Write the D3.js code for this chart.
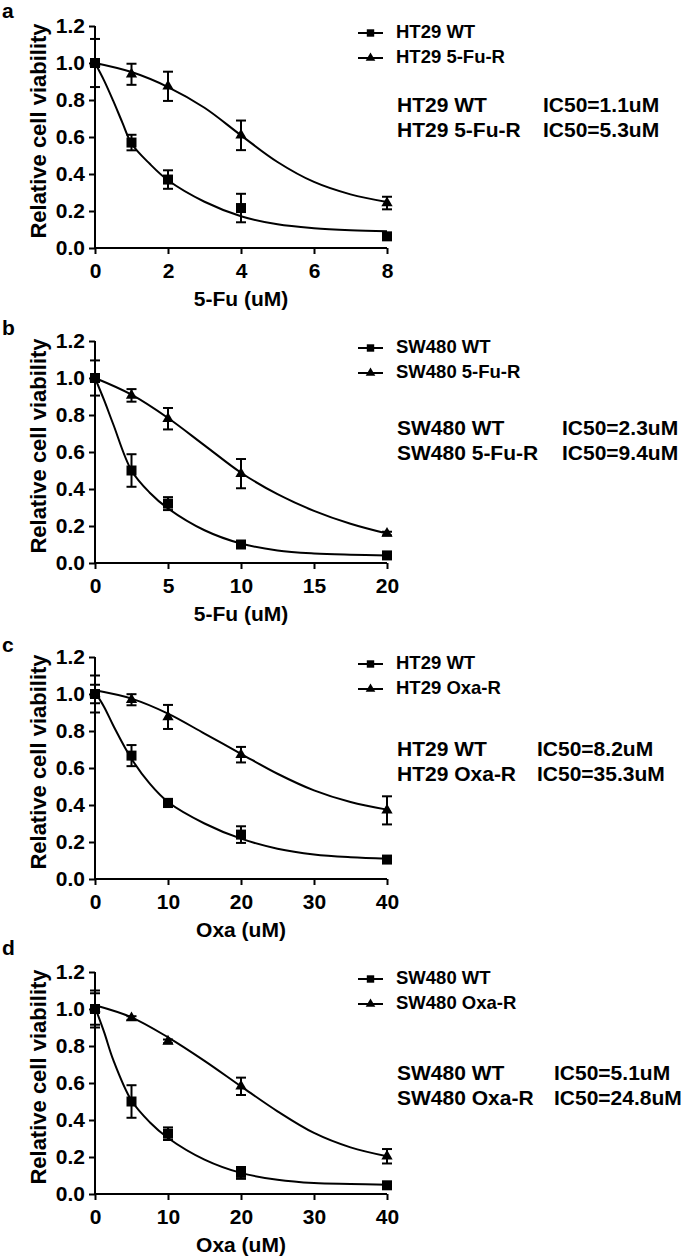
<!DOCTYPE html>
<html>
<head>
<meta charset="utf-8">
<script src="https://cdn.jsdelivr.net/npm/d3@7"></script>
<style>
  body { margin: 0; background: #fff; }
  svg { display: block; font-family: "Liberation Sans", Arial, Helvetica, sans-serif; }
  text { font-weight: bold; fill: #000; }
</style>
</head>
<body>
<script>
// ---- data ----
const panelLetters = ["a", "b", "c", "d"];
const xTitles = ["5-Fu (uM)", "5-Fu (uM)", "Oxa (uM)", "Oxa (uM)"];
const xMax = [8, 20, 40, 40];
const xTicks = [[0, 2, 4, 6, 8], [0, 5, 10, 15, 20], [0, 10, 20, 30, 40], [0, 10, 20, 30, 40]];
const yTicks = [0, 0.2, 0.4, 0.6, 0.8, 1.0, 1.2];

const wtNames = ["HT29 WT", "SW480 WT", "HT29 WT", "SW480 WT"];
const resNames = ["HT29 5-Fu-R", "SW480 5-Fu-R", "HT29 Oxa-R", "SW480 Oxa-R"];
const ic50Wt = ["IC50=1.1uM", "IC50=2.3uM", "IC50=8.2uM", "IC50=5.1uM"];
const ic50Res = ["IC50=5.3uM", "IC50=9.4uM", "IC50=35.3uM", "IC50=24.8uM"];

const doses = [[0, 1, 2, 4, 8], [0, 2.5, 5, 10, 20], [0, 5, 10, 20, 40], [0, 5, 10, 20, 40]];
const wtMean = [
  [1.0, 0.57, 0.37, 0.216, 0.063],
  [1.0, 0.50, 0.321, 0.10, 0.041],
  [1.0, 0.667, 0.411, 0.24, 0.105],
  [1.0, 0.50, 0.326, 0.114, 0.047]
];
const wtErr = [
  [0.13, 0.042, 0.05, 0.077, 0.01],
  [0.095, 0.088, 0.035, 0.015, 0.008],
  [0.1, 0.057, 0.022, 0.045, 0.01],
  [0.1, 0.088, 0.034, 0.032, 0.008]
];
const resMean = [
  [1.0, 0.939, 0.874, 0.609, 0.243],
  [1.0, 0.906, 0.78, 0.483, 0.159],
  [1.0, 0.969, 0.876, 0.672, 0.371],
  [1.0, 0.951, 0.825, 0.582, 0.204]
];
const resErr = [
  [0.02, 0.057, 0.079, 0.08, 0.034],
  [0.02, 0.034, 0.058, 0.079, 0.01],
  [0.05, 0.03, 0.065, 0.042, 0.076],
  [0.085, 0.01, 0.01, 0.047, 0.039]
];

// fitted curves, sampled off the figure
const wtCurveX = [
  [0, 0.25, 0.5, 0.75, 1, 1.5, 2, 3, 4, 5, 6, 7, 8],
  [0, 0.625, 1.25, 2.5, 3.75, 5, 7.5, 10, 12.5, 15, 17.5, 20],
  [0, 1.25, 2.5, 5, 7.5, 10, 15, 20, 25, 30, 35, 40],
  [0, 1.25, 2.5, 5, 7.5, 10, 15, 20, 25, 30, 35, 40]
];
const wtCurveY = [
  [1.0, 0.905, 0.795, 0.678, 0.565, 0.455, 0.366, 0.25, 0.172, 0.128, 0.107, 0.096, 0.09],
  [1.0, 0.88, 0.75, 0.50, 0.38, 0.295, 0.177, 0.105, 0.068, 0.052, 0.045, 0.041],
  [1.01, 0.93, 0.83, 0.65, 0.515, 0.416, 0.30, 0.218, 0.164, 0.133, 0.118, 0.11],
  [1.01, 0.875, 0.725, 0.505, 0.388, 0.303, 0.186, 0.114, 0.077, 0.059, 0.054, 0.05]
];
const resCurveX = [
  [0, 1, 2, 3, 4, 5, 6, 7, 8],
  [0, 2.5, 5, 7.5, 10, 12.5, 15, 17.5, 20],
  [0, 5, 10, 15, 20, 25, 30, 35, 40],
  [0, 5, 10, 15, 20, 25, 30, 35, 40]
];
const resCurveY = [
  [1.0, 0.951, 0.87, 0.758, 0.609, 0.465, 0.357, 0.29, 0.249],
  [1.0, 0.91, 0.784, 0.636, 0.488, 0.372, 0.282, 0.212, 0.159],
  [1.02, 0.975, 0.894, 0.786, 0.677, 0.569, 0.479, 0.416, 0.375],
  [1.02, 0.955, 0.847, 0.72, 0.582, 0.447, 0.33, 0.252, 0.204]
];

// ---- layout ----
const WIDTH = 685, HEIGHT = 1257;
const X0 = 95, X1 = 387, PH = 222;
const yZero = [248, 563, 879, 1194];
const letterY = [18, 335, 652, 955];
const icY = [112, 435, 756, 1080];
const icX = [543, 562, 537, 554];

const svg = d3.select("body").append("svg")
  .attr("width", WIDTH).attr("height", HEIGHT);

const squarePath = d3.symbol().type(d3.symbolSquare).size(100)();
const triPath = d3.symbol().type(d3.symbolTriangle).size(55)();
const legSquare = d3.symbol().type(d3.symbolSquare).size(55)();
const legTri = d3.symbol().type(d3.symbolTriangle).size(40)();

panelLetters.forEach((letter, p) => {
  const x = d3.scaleLinear().domain([0, xMax[p]]).range([X0, X1]);
  const y = d3.scaleLinear().domain([0, 1.2]).range([yZero[p], yZero[p] - PH]);
  const g = svg.append("g");

  g.append("text").attr("x", 2).attr("y", letterY[p])
    .style("font-size", "21px").text(letter);

  // axes
  const ax = g.append("g").attr("transform", `translate(0,${yZero[p]})`)
    .call(d3.axisBottom(x).tickValues(xTicks[p]).tickSize(6).tickSizeOuter(0).tickPadding(9));
  const ay = g.append("g").attr("transform", `translate(${X0},0)`)
    .call(d3.axisLeft(y).tickValues(yTicks).tickFormat(d3.format(".1f")).tickSize(6).tickSizeOuter(0).tickPadding(4));
  [ax, ay].forEach(a => {
    a.selectAll("path,line").attr("stroke", "#000").attr("stroke-width", 2);
    a.selectAll("text").style("font-size", "21px").style("font-family", "Liberation Sans, Arial, sans-serif")
      .style("font-weight", "bold").attr("fill", "#000");
  });
  ay.select(".domain").attr("d", `M0,${y(0)}V${y(1.2)}`);
  ax.select(".domain").attr("d", `M${X0},0H${X1}`);

  g.append("text").attr("x", (X0 + X1) / 2).attr("y", yZero[p] + 58)
    .attr("text-anchor", "middle").style("font-size", "21px").text(xTitles[p]);
  g.append("text")
    .attr("transform", `translate(46,${yZero[p] - 117}) rotate(-90)`)
    .attr("text-anchor", "middle").style("font-size", "22px").text("Relative cell viability");

  // curves
  const line = d3.line().x(d => x(d[0])).y(d => y(d[1])).curve(d3.curveCatmullRom.alpha(0.5));
  [[wtCurveX[p], wtCurveY[p]], [resCurveX[p], resCurveY[p]]].forEach(([cx, cy]) => {
    g.append("path").datum(cx.map((v, i) => [v, cy[i]]))
      .attr("d", line).attr("fill", "none").attr("stroke", "#000").attr("stroke-width", 2);
  });

  // error bars and markers
  const series = [
    { mean: wtMean[p], err: wtErr[p], shape: squarePath },
    { mean: resMean[p], err: resErr[p], shape: triPath }
  ];
  series.forEach(s => {
    const pts = doses[p].map((d, i) => ({ d: d, m: s.mean[i], e: s.err[i] }));
    const eb = g.append("g").attr("stroke", "#000").attr("stroke-width", 2);
    pts.forEach(pt => {
      const cxp = x(pt.d);
      eb.append("line").attr("x1", cxp).attr("x2", cxp).attr("y1", y(pt.m - pt.e)).attr("y2", y(pt.m + pt.e));
      [pt.m - pt.e, pt.m + pt.e].forEach(v => {
        eb.append("line").attr("x1", cxp - 5).attr("x2", cxp + 5).attr("y1", y(v)).attr("y2", y(v));
      });
    });
    g.selectAll(null).data(pts).enter().append("path")
      .attr("d", s.shape).attr("fill", "#000")
      .attr("transform", d => `translate(${x(d.d)},${y(d.m)})`);
  });

  // legend
  const legY = [yZero[p] - 210, yZero[p] - 185];
  [[wtNames[p], legSquare], [resNames[p], legTri]].forEach(([name, shp], i) => {
    const ly = legY[i] - 5;
    g.append("line").attr("x1", 358).attr("x2", 383).attr("y1", ly).attr("y2", ly)
      .attr("stroke", "#000").attr("stroke-width", 2);
    g.append("path").attr("d", shp).attr("fill", "#000").attr("transform", `translate(370.5,${ly})`);
    g.append("text").attr("x", 396).attr("y", legY[i]).style("font-size", "18.5px").text(name);
  });

  // IC50 text
  [[wtNames[p], ic50Wt[p]], [resNames[p], ic50Res[p]]].forEach(([name, ic], i) => {
    g.append("text").attr("x", 397).attr("y", icY[p] + i * 25).style("font-size", "21px").text(name);
    g.append("text").attr("x", icX[p]).attr("y", icY[p] + i * 25).style("font-size", "21px").text(ic);
  });
});
</script>
</body>
</html>
